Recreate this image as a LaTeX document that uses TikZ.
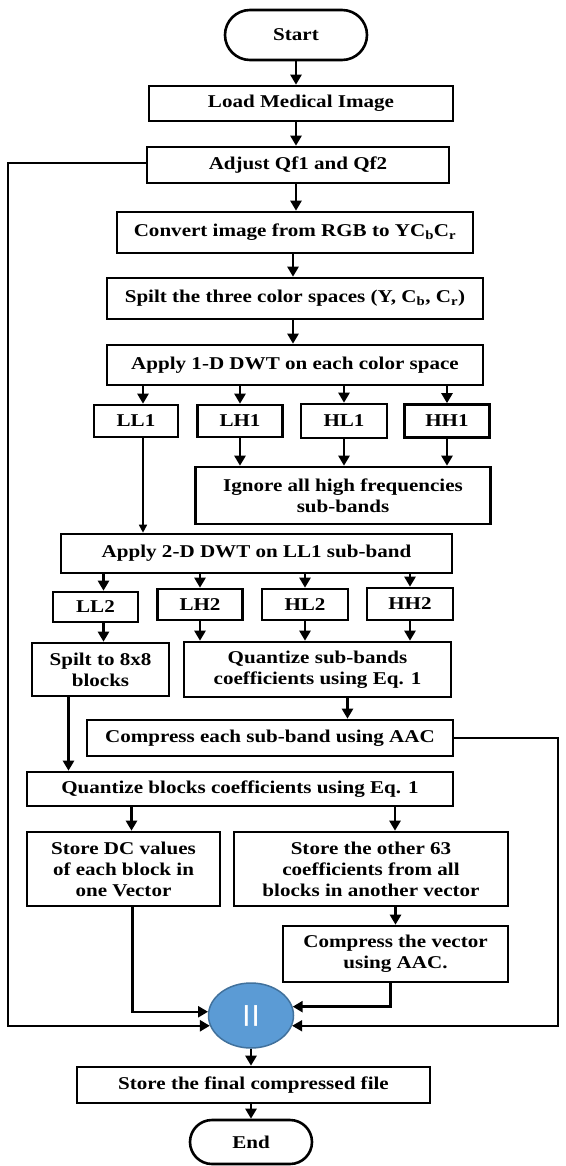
\documentclass[tikz,border=0pt]{standalone}
\usepackage{fontspec}
\setmainfont{Liberation Serif}[FakeStretch=1.17]
\newfontfamily\barfont{Liberation Sans}
\usetikzlibrary{shapes.misc,shapes.geometric,arrows.meta,calc}
\definecolor{circfill}{HTML}{5B9BD5}
\definecolor{circedge}{HTML}{41719C}
\begin{document}
\begin{tikzpicture}[x=1pt,y=-1pt,
  box/.style={draw,line width=2.6pt,rectangle,align=center,inner sep=0pt,
    font=\fontsize{18}{21}\selectfont\bfseries},
  term/.style={draw,line width=2.6pt,rounded rectangle,inner sep=0pt,
    font=\fontsize{18}{21}\selectfont\bfseries},
  arr/.style={line width=2.4pt,-{Triangle[length=10pt,width=11pt]}},
  thinarr/.style={line width=1.6pt,-{Triangle[length=8pt,width=8pt]}},
]
\useasboundingbox (0,0) rectangle (565,1166);

\node[term,minimum width=142,minimum height=50] (start) at (296,35) {Start};
\node[box,minimum width=304,minimum height=35] (load) at (301,103.5) {Load Medical Image};
\node[box,minimum width=302,minimum height=36] (adjust) at (298,165) {Adjust Qf1 and Qf2};
\node[box,minimum width=356,minimum height=41] (convert) at (295,232.5) {Convert image from RGB to YC\textsubscript{b}C\textsubscript{r}};
\node[box,minimum width=376,minimum height=41] (spilt3) at (295,298.5) {Spilt the three color spaces (Y, C\textsubscript{b}, C\textsubscript{r})};
\node[box,minimum width=376,minimum height=40] (dwt1) at (295,365) {Apply 1-D DWT on each color space};

\node[box,minimum width=84,minimum height=32] (ll1) at (136,421) {LL1};
\node[box,minimum width=85,minimum height=32] (lh1) at (240,421) {LH1};
\node[box,minimum width=86,minimum height=34] (hl1) at (344,421) {HL1};
\node[box,minimum width=85,minimum height=33] (hh1) at (447,421) {HH1};
\node[box,minimum width=295,minimum height=57] (ignore) at (343,495.5) {Ignore all high frequencies\\sub-bands};

\node[box,minimum width=391,minimum height=39] (dwt2) at (256.5,553.5) {Apply 2-D DWT on LL1 sub-band};
\node[box,minimum width=85,minimum height=30] (ll2) at (95.5,607) {LL2};
\node[box,minimum width=85,minimum height=31] (lh2) at (200,604.5) {LH2};
\node[box,minimum width=86,minimum height=31] (hl2) at (305,604.5) {HL2};
\node[box,minimum width=86,minimum height=32] (hh2) at (410,604) {HH2};

\node[box,minimum width=137,minimum height=53] (split8) at (100.5,669.5) {Spilt to 8x8\\blocks};
\node[box,minimum width=267,minimum height=55] (quant) at (317.5,669.5) {Quantize sub-bands\\coefficients using Eq. 1};
\node[box,minimum width=366,minimum height=36] (compress) at (270,738) {Compress each sub-band using AAC};
\node[box,minimum width=426,minimum height=34] (qblocks) at (240,789) {Quantize blocks coefficients using Eq. 1};

\node[box,minimum width=193,minimum height=74] (dc) at (123.5,869) {Store DC values\\of each block in\\one Vector};
\node[box,minimum width=274,minimum height=74] (other) at (371,869) {Store the other 63\\coefficients from all\\blocks in another vector};
\node[box,minimum width=225,minimum height=56] (cvec) at (395.5,954) {Compress the vector\\using AAC.};

\node[ellipse,draw=circedge,fill=circfill,line width=1.5pt,minimum width=85,minimum height=65,inner sep=0pt,
  text=white,font=\barfont\fontsize{22}{22}\selectfont\bfseries] (circ) at (251,1015.5) {|\kern3pt|};

\node[box,minimum width=353,minimum height=36] (final) at (253.5,1085) {Store the final compressed file};
\node[term,minimum width=122,minimum height=44] (end) at (251,1142) {End};

% main column
\draw[arr] (start.south) -- (start.south |- load.north);
\draw[arr] (start |- load.south) -- (start |- adjust.north);
\draw[arr] (start |- adjust.south) -- (start |- convert.north);
\draw[arr] ([xshift=-2pt]convert.south) -- ([xshift=-2pt]convert.south |- spilt3.north);
\draw[arr] ([xshift=-2pt]spilt3.south) -- ([xshift=-2pt]spilt3.south |- dwt1.north);

% first DWT level
\draw[arr] ([xshift=7pt]ll1.north |- dwt1.south) -- ([xshift=7pt]ll1.north);
\foreach \n in {lh1,hl1,hh1}{
  \draw[arr] (\n.north |- dwt1.south) -- (\n.north);
  \draw[arr] (\n.south) -- (\n.south |- ignore.north);
}
\draw[thinarr] ([xshift=7pt]ll1.south) -- ([xshift=7pt]ll1.south |- dwt2.north);

% second DWT level
\draw[arr] ([xshift=8pt]ll2.north |- dwt2.south) -- ([xshift=8pt]ll2.north);
\foreach \n in {lh2,hl2,hh2}{
  \draw[arr] (\n.north |- dwt2.south) -- (\n.north);
  \draw[arr] (\n.south) -- (\n.south |- quant.north);
}
\draw[arr] ([xshift=8pt]ll2.south) -- ([xshift=8pt]ll2.south |- split8.north);
\draw[arr] ([xshift=30pt]quant.south) -- ([xshift=30pt]quant.south |- compress.north);
\draw[arr] ([xshift=-32pt]split8.south) -- ([xshift=-32pt]split8.south |- qblocks.north);

% blocks
\draw[arr] ([xshift=8pt]dc.north |- qblocks.south) -- ([xshift=8pt]dc.north);
\draw[arr] ([xshift=24pt]other.north |- qblocks.south) -- ([xshift=24pt]other.north);
\draw[arr] (cvec.north |- other.south) -- (cvec.north);

% into the concatenation node
\draw[arr] ([xshift=9pt]dc.south) |- (circ.175);
\draw[arr] ([xshift=-5pt]cvec.south) |- (circ.12);
\draw[arr,line width=1.8pt] (compress.east) -- ++(104,0) |- (circ.-14);
\draw[arr] ([yshift=2pt]adjust.west) -- ++(-138,0) |- (circ.194);

% output
\draw[arr] (circ.south) -- (circ.south |- final.north);
\draw[arr] (end |- final.south) -- (end.north);
\end{tikzpicture}
\end{document}
